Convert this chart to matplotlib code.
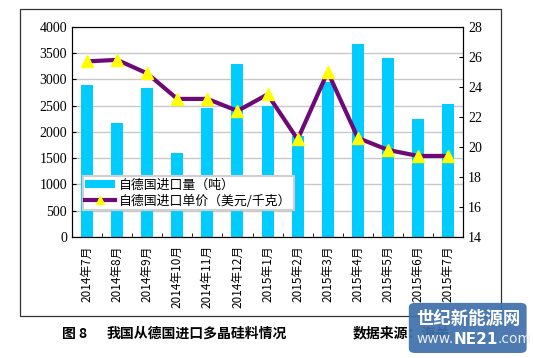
import numpy as np
import matplotlib.pyplot as plt
from matplotlib.patches import Rectangle, FancyBboxPatch

plt.rcParams['font.family'] = ['Noto Sans CJK SC', 'DejaVu Sans']

# data
months = ["2014年7月", "2014年8月", "2014年9月", "2014年10月", "2014年11月", "2014年12月",
          "2015年1月", "2015年2月", "2015年3月", "2015年4月", "2015年5月", "2015年6月", "2015年7月"]
volume = [2900, 2170, 2840, 1590, 2450, 3300, 2500, 1930, 2950, 3670, 3400, 2250, 2530]
price = [25.7, 25.8, 24.9, 23.2, 23.2, 22.4, 23.5, 20.5, 25.0, 20.6, 19.8, 19.4, 19.4]

fig = plt.figure(figsize=(5.33, 3.58), dpi=100)
# outer chart frame
fig.patches.append(Rectangle((0.0375, 0.117), 0.902, 0.858, transform=fig.transFigure,
                             fill=False, edgecolor='#333333', linewidth=0.9))

ax = fig.add_axes([0.135, 0.338, 0.734, 0.587])
x = np.arange(len(months))
bars = ax.bar(x, volume, width=0.4, color='#00CCFF', zorder=2)
ax.set_ylim(0, 4000)
ax.set_yticks(np.arange(0, 4001, 500))
ax.set_xlim(-0.5, len(months) - 0.5)
ax.set_xticks(x)
ax.set_xticklabels(months, rotation=90, fontsize=8.5)
ax.set_xticks(np.arange(-0.5, len(months), 1), minor=True)
ax.tick_params(axis='x', which='major', length=0, pad=6)
ax.tick_params(axis='x', which='minor', direction='in', length=3)
ax.tick_params(axis='y', direction='in', length=3, labelsize=10)
for lab in ax.get_yticklabels():
    lab.set_family(['Liberation Serif'])
ax.yaxis.grid(True, color='#c8c8c8', linewidth=1, zorder=0)
ax.set_axisbelow(True)
for s in ['left', 'bottom', 'right']:
    ax.spines[s].set_color('#222222')
ax.spines['top'].set_color('#888888')

ax2 = ax.twinx()
line, = ax2.plot(x, price, color='#6E0A78', linewidth=3, marker='^', markersize=9,
                 markerfacecolor='#FFFF00', markeredgecolor='#FFFF00', zorder=3)
ax2.set_ylim(14, 28)
ax2.set_yticks(np.arange(14, 29, 2))
ax2.tick_params(axis='y', direction='in', length=3, labelsize=10)
for lab in ax2.get_yticklabels():
    lab.set_family(['Liberation Serif'])

leg = ax2.legend([bars, line], ['自德国进口量（吨）', '自德国进口单价（美元/千克）'],
                 loc='lower left', bbox_to_anchor=(0.028, 0.128), borderaxespad=0,
                 fontsize=9.3, frameon=True, fancybox=False, edgecolor='#d0d0d0',
                 framealpha=1, borderpad=0.2, labelspacing=0.2, handlelength=2.3,
                 handleheight=0.5, handletextpad=0.3, markerscale=0.7)
leg.get_frame().set_linewidth(1.5)

# caption
fig.text(0.116, 0.068, '图 8', fontsize=10, fontweight='bold', ha='left', va='center')
fig.text(0.199, 0.068, '我国从德国进口多晶硅料情况', fontsize=10, fontweight='bold',
         ha='left', va='center')
fig.text(0.662, 0.068, '数据来源：海关', fontsize=10, fontweight='bold',
         ha='left', va='center')

# watermark logo
fig.patches.append(FancyBboxPatch((0.767, 0.014), 0.221, 0.14, transform=fig.transFigure,
                                  boxstyle='round,pad=0,rounding_size=0.012',
                                  facecolor='#3F70AA', edgecolor='none', alpha=0.93,
                                  zorder=5))
fig.text(0.878, 0.108, '世纪新能源网', fontsize=12.5, fontweight='bold', color='white',
         ha='center', va='center', zorder=6)
t1 = fig.text(0.781, 0.052, 'www.', fontsize=10, color='#e8eef6', ha='left',
              va='center', family=['DejaVu Sans'], zorder=6)
t2 = fig.text(0, 0, 'NE21', fontsize=11, fontweight='bold', color='white', ha='left',
              va='center', family=['DejaVu Sans'], zorder=6)
fig.canvas.draw()
bb = t1.get_window_extent()
t2.set_transform(fig.dpi_scale_trans)
t2.set_position((bb.x1 / fig.dpi, (bb.y0 + bb.y1) / 2 / fig.dpi))
fig.canvas.draw()
bb2 = t2.get_window_extent()
fig.text(bb2.x1 / fig.dpi, (bb.y0 + bb.y1) / 2 / fig.dpi, '.com', fontsize=10,
         color='#e8eef6', ha='left', va='center', family=['DejaVu Sans'], zorder=6,
         transform=fig.dpi_scale_trans)

fig.savefig('out.png', dpi=100)
